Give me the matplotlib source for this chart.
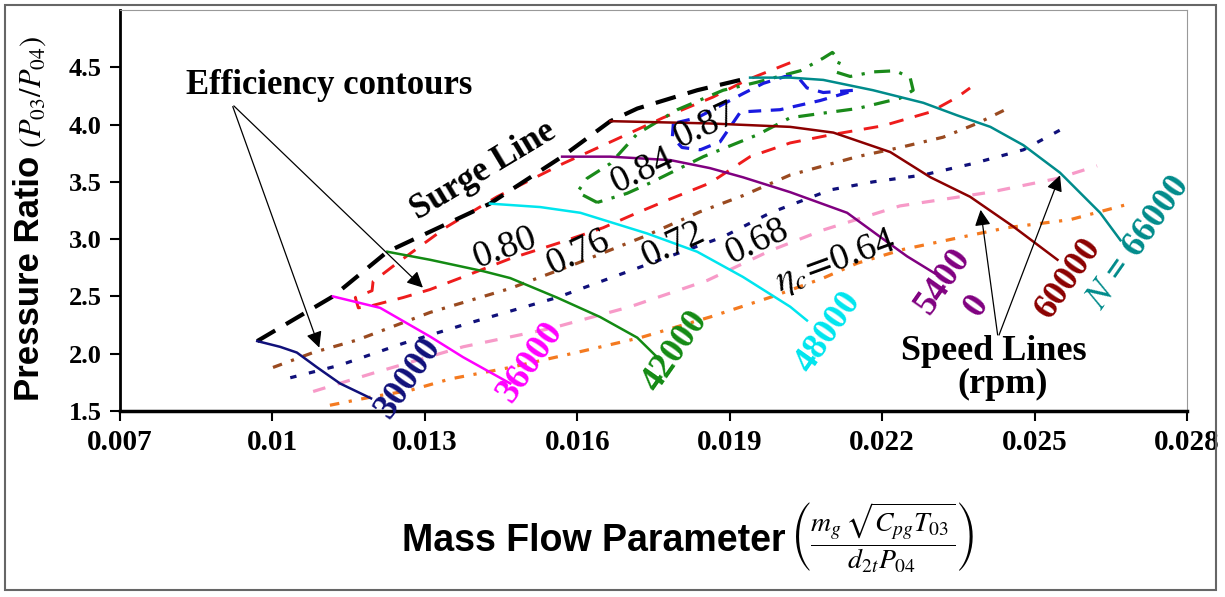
import matplotlib
matplotlib.use("Agg")
import matplotlib.pyplot as plt
from matplotlib.patches import Rectangle

plt.rcParams['font.family'] = ['Liberation Serif', 'DejaVu Serif']
plt.rcParams['mathtext.fontset'] = 'stix'

# speed lines (rpm)
n30_x = [0.00970, 0.01015, 0.01048, 0.01088, 0.01133, 0.01194]
n30_y = [2.11, 2.06, 2.01, 1.88, 1.74, 1.61]
n36_x = [0.01119, 0.01212, 0.01310, 0.01375, 0.01468]
n36_y = [2.50, 2.40, 2.15, 1.97, 1.74]
n42_x = [0.01226, 0.01310, 0.01415, 0.01468, 0.01560, 0.01645, 0.01718, 0.01757]
n42_y = [2.89, 2.82, 2.72, 2.66, 2.49, 2.32, 2.14, 1.97]
n48_x = [0.01428, 0.01527, 0.01606, 0.01737, 0.01836, 0.01926, 0.02019, 0.02052]
n48_y = [3.31, 3.28, 3.23, 3.05, 2.89, 2.67, 2.41, 2.29]
n54_x = [0.01570, 0.01665, 0.01783, 0.01861, 0.01926, 0.02019, 0.02131, 0.02196, 0.02249, 0.02304]
n54_y = [3.72, 3.72, 3.69, 3.62, 3.54, 3.41, 3.23, 3.02, 2.85, 2.70]
n60_x = [0.01665, 0.01763, 0.01861, 0.02019, 0.02104, 0.02216, 0.02295, 0.02373, 0.02458, 0.02545]
n60_y = [4.03, 4.02, 4.01, 3.98, 3.93, 3.76, 3.54, 3.37, 3.11, 2.82]
n66_x = [0.01940, 0.02019, 0.02084, 0.02182, 0.02281, 0.02348, 0.02413, 0.02478, 0.02550, 0.02629, 0.02669]
n66_y = [4.41, 4.41, 4.39, 4.30, 4.19, 4.08, 3.98, 3.82, 3.58, 3.23, 2.99]

surge_x = [0.00970, 0.01119, 0.01226, 0.01428, 0.01570, 0.01665, 0.01718, 0.01836, 0.01940]
surge_y = [2.11, 2.50, 2.89, 3.31, 3.72, 4.03, 4.14, 4.30, 4.41]

# efficiency contours
e64_x = [0.01113, 0.01192, 0.01271, 0.01350, 0.01468, 0.01598, 0.01724, 0.01861, 0.01985,
         0.02084, 0.02151, 0.02241, 0.02348, 0.02446, 0.02570, 0.02688]
e64_y = [1.55, 1.62, 1.68, 1.78, 1.88, 2.01, 2.14, 2.32, 2.50, 2.66, 2.79, 2.91, 3.01, 3.10, 3.17, 3.31]
e68_x = [0.01080, 0.01198, 0.01375, 0.01547, 0.01704, 0.01856, 0.01980, 0.02084, 0.02235,
         0.02413, 0.02545, 0.02623]
e68_y = [1.67, 1.83, 2.06, 2.22, 2.41, 2.64, 2.90, 3.08, 3.29, 3.41, 3.53, 3.64]
e72_x = [0.01035, 0.01133, 0.01257, 0.01389, 0.01560, 0.01763, 0.01887, 0.01980, 0.02098,
         0.02182, 0.02281, 0.02379, 0.02478, 0.02566]
e72_y = [1.79, 1.90, 2.09, 2.27, 2.49, 2.82, 3.02, 3.23, 3.43, 3.50, 3.56, 3.66, 3.78, 3.99]
e76_x = [0.01001, 0.01080, 0.01167, 0.01310, 0.01468, 0.01600, 0.01730, 0.01842, 0.01926,
         0.02019, 0.02151, 0.02235, 0.02320, 0.02387, 0.02456]
e76_y = [1.88, 2.01, 2.12, 2.36, 2.57, 2.79, 3.02, 3.24, 3.38, 3.56, 3.72, 3.80, 3.89, 4.01, 4.16]
e80_x = [0.02019, 0.01934, 0.01867, 0.01769, 0.01671, 0.01572, 0.01442, 0.01344, 0.01245, 0.01198,
         0.01196, 0.01163, 0.01169, 0.01196, 0.01257, 0.01310, 0.01375, 0.01468, 0.01566, 0.01651,
         0.01718, 0.01777, 0.01861, 0.01940, 0.02019, 0.02098, 0.02202, 0.02295, 0.02348, 0.02373]
e80_y = [4.54, 4.39, 4.24, 4.06, 3.86, 3.66, 3.37, 3.11, 2.79, 2.63,
         2.55, 2.49, 2.40, 2.42, 2.49, 2.56, 2.67, 2.83, 2.97, 3.10,
         3.23, 3.34, 3.49, 3.72, 3.84, 3.91, 3.99, 4.11, 4.24, 4.32]
e84_x = [0.01639, 0.01600, 0.01619, 0.01665, 0.01718, 0.01797, 0.01887, 0.01954, 0.02039, 0.02084,
         0.02102, 0.02117, 0.02108, 0.02137, 0.02182, 0.02226, 0.02255, 0.02261, 0.02235, 0.02151,
         0.02084, 0.02019, 0.01954, 0.01848, 0.01743, 0.01698, 0.01639]
e84_y = [3.32, 3.41, 3.53, 3.66, 3.92, 4.13, 4.30, 4.37, 4.47, 4.58,
         4.63, 4.56, 4.46, 4.42, 4.46, 4.47, 4.41, 4.30, 4.23, 4.14,
         4.10, 4.06, 3.91, 3.72, 3.49, 3.40, 3.32]
e87_x = [0.01789, 0.01787, 0.01806, 0.01842, 0.01881, 0.01921, 0.01999, 0.02078, 0.02147,
         0.02084, 0.02052, 0.02033, 0.02009, 0.01966, 0.01926, 0.01875, 0.01836, 0.01789]
e87_y = [4.01, 3.89, 3.80, 3.78, 3.85, 4.11, 4.13, 4.21, 4.30,
         4.28, 4.32, 4.42, 4.42, 4.36, 4.27, 4.15, 4.06, 4.01]

xticks = [0.007, 0.010, 0.013, 0.016, 0.019, 0.022, 0.025, 0.028]
xtick_labels = ['0.007', '0.01', '0.013', '0.016', '0.019', '0.022', '0.025', '0.028']
yticks = [1.5, 2.0, 2.5, 3.0, 3.5, 4.0, 4.5]
ytick_labels = ['1.5', '2.0', '2.5', '3.0', '3.5', '4.0', '4.5']

fig = plt.figure(figsize=(12.25, 5.97), dpi=100)
ax = fig.add_axes([0.098, 0.3116, 0.871, 0.6716])

# contours first, speed lines on top
ax.plot(e64_x, e64_y, color='#f47a20', lw=2.3, ls=(0, (3, 3, 1, 3)))
ax.plot(e68_x, e68_y, color='#f79ac8', lw=2.3, ls=(0, (4, 4)))
ax.plot(e72_x, e72_y, color='#10107a', lw=2.3, ls=(0, (2, 4)))
ax.plot(e76_x, e76_y, color='#9a4a20', lw=2.3, ls=(0, (3, 3, 1, 3)))
ax.plot(e80_x, e80_y, color='#ee1c1c', lw=2.1, ls=(0, (5, 4)))
ax.plot(e84_x, e84_y, color='#1a8a1a', lw=2.3, ls=(0, (5, 3, 1, 3)))
ax.plot(e87_x, e87_y, color='#1a1ae0', lw=2.3, ls=(0, (4, 3)))

ax.plot(surge_x, surge_y, color='black', lw=3, ls=(0, (5, 3)))

ax.plot(n30_x, n30_y, color='#10107a', lw=1.8)
ax.plot(n36_x, n36_y, color='#ff00ff', lw=1.8)
ax.plot(n42_x, n42_y, color='#138a13', lw=1.8)
ax.plot(n48_x, n48_y, color='#00e5ee', lw=1.8)
ax.plot(n54_x, n54_y, color='#800080', lw=1.8)
ax.plot(n60_x, n60_y, color='#8b0000', lw=1.8)
ax.plot(n66_x, n66_y, color='#008b8b', lw=1.8)

ax.set_xlim(0.007, 0.028)
ax.set_ylim(1.5, 5.0)
ax.set_xticks(xticks)
ax.set_xticklabels(xtick_labels, fontsize=21, fontweight='bold')
ax.set_yticks(yticks)
ax.set_yticklabels(ytick_labels, fontsize=19, fontweight='bold')
ax.tick_params(axis='both', direction='out', length=7, width=1.5, pad=6)
ax.spines['left'].set_linewidth(2)
ax.spines['bottom'].set_linewidth(2.5)
ax.spines['top'].set_color('#999999')
ax.spines['right'].set_color('#999999')

# contour labels
lab = dict(fontsize=27, ha='center', va='center')
ax.text(0.01458, 2.92, '0.80', rotation=20, **lab)
ax.text(0.01602, 2.88, '0.76', rotation=25, **lab)
ax.text(0.01789, 2.95, '0.72', rotation=25, **lab)
ax.text(0.01954, 2.98, '0.68', rotation=25, **lab)
ax.text(0.02108, 2.80, r'$\eta_c\!=\!$0.64', rotation=20, **lab)
ax.text(0.01728, 3.60, '0.84', rotation=25, **lab)
ax.text(0.01852, 3.99, '0.87', rotation=25, **lab)

# speed labels
spd = dict(fontsize=26, fontweight='bold', rotation=55, ha='center', va='center')
ax.text(0.01267, 1.79, '30000', color='#10107a', **spd)
ax.text(0.01507, 1.93, '36000', color='#ff00ff', **spd)
ax.text(0.01793, 2.02, '42000', color='#138a13', **spd)
ax.text(0.02094, 2.19, '48000', color='#00e5ee', **spd)
ax.text(0.02320, 2.63, '5400', color='#800080', **spd)
ax.text(0.02387, 2.42, '0', color='#800080', **spd)
ax.text(0.02566, 2.66, '60000', color='#8b0000', **spd)
ax.text(0.02704, 2.97, r'$N$ = 66000', color='#008b8b', **spd)

# annotations
ax.text(0.01111, 4.34, 'Efficiency contours', fontsize=25, fontweight='bold', ha='center', va='center')
arr = dict(arrowstyle='-|>', color='black', lw=0.9, mutation_scale=24)
ax.annotate('', xy=(0.01094, 2.03), xytext=(0.00920, 4.18), arrowprops=arr)
ax.annotate('', xy=(0.01300, 2.56), xytext=(0.00920, 4.18), arrowprops=arr)

ax.text(0.01415, 3.60, 'Surge Line', fontsize=25, fontweight='bold', rotation=31, ha='center', va='center')

ax.text(0.02420, 2.02, 'Speed Lines', fontsize=26, fontweight='bold', ha='center', va='center')
ax.text(0.02438, 1.73, '(rpm)', fontsize=26, fontweight='bold', ha='center', va='center')
ax.annotate('', xy=(0.02393, 3.28), xytext=(0.02428, 2.14), arrowprops=arr)
ax.annotate('', xy=(0.02552, 3.58), xytext=(0.02428, 2.14), arrowprops=arr)

# axis titles
fig.text(0.0237, 0.534, 'Pressure Ratio', rotation=90, fontsize=25, fontweight='bold',
         family='Liberation Sans', ha='center', va='center')
fig.text(0.027, 0.846, r'$(P_{03}/P_{04})$', rotation=90, fontsize=22, ha='center', va='center')
fig.text(0.641, 0.094, 'Mass Flow Parameter', fontsize=27, fontweight='bold',
         family='Liberation Sans', ha='right', va='center')
fig.text(0.645, 0.100, r'$\left(\dfrac{m_g\,\sqrt{C_{pg}T_{03}}}{d_{2t}P_{04}}\right)$',
         fontsize=20, ha='left', va='center')

fig.add_artist(Rectangle((0.004, 0.0117), 0.989, 0.98, transform=fig.transFigure,
                         fill=False, ec='#666666', lw=1.5))

fig.savefig('out.png', dpi=100)
